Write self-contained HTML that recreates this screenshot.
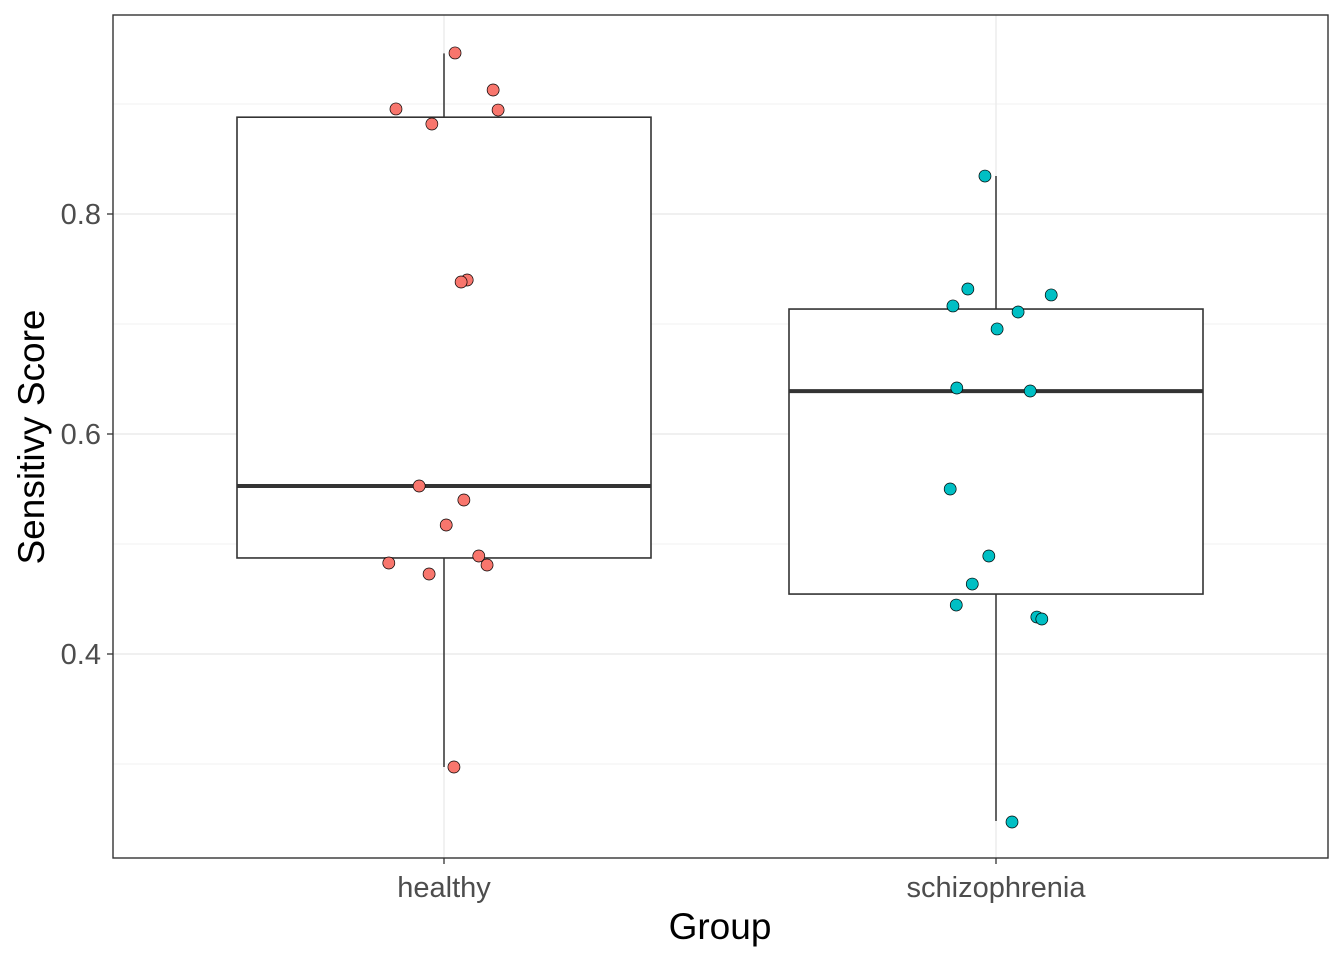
<!DOCTYPE html>
<html><head><meta charset="utf-8"><style>
html,body{margin:0;padding:0;background:#fff;}
svg{display:block;font-family:"Liberation Sans",Arial,sans-serif;}
</style></head><body>
<svg id="chart" width="1344" height="960" viewBox="0 0 1344 960">
<rect x="0" y="0" width="1344" height="960" fill="#fff"/>
<g id="grid"></g>
<g id="boxes"></g>
<g id="points"></g>
<rect x="113" y="15" width="1215" height="843" fill="none" stroke="#333" stroke-width="1.4"/>
<g id="axes"></g>
<text x="720" y="939" font-size="37" text-anchor="middle" fill="#000">Group</text>
<text transform="translate(44,437) rotate(-90)" font-size="37" text-anchor="middle" fill="#000">Sensitivy Score</text>
</svg>
<script>
const categories = ["healthy","schizophrenia"];
const colors = ["#F8766D","#00BFC4"];
const yTicks = [0.4,0.6,0.8];
const yTickLabels = ["0.4","0.6","0.8"];
const yMinor = [0.3,0.5,0.7,0.9];
const boxLower = [0.4873,0.4545];
const boxMedian = [0.5527,0.639];
const boxUpper = [0.888,0.7136];
const whiskerLow = [0.2973,0.2482];
const whiskerHigh = [0.946,0.8345];
const healthyValues = [0.9464,0.9127,0.8955,0.8945,0.8818,0.74,0.7382,0.5527,0.54,0.5173,0.4891,0.4827,0.4809,0.4727,0.2973];
const healthyJitter = [0.02,0.089,-0.087,0.098,-0.022,0.042,0.031,-0.045,0.036,0.004,0.063,-0.1,0.078,-0.027,0.018];
const schizoValues = [0.8345,0.7318,0.7264,0.7164,0.7109,0.6955,0.6418,0.6391,0.55,0.4891,0.4636,0.4445,0.4336,0.4318,0.2473];
const schizoJitter = [-0.02,-0.051,0.1,-0.078,0.04,0.002,-0.071,0.062,-0.083,-0.013,-0.043,-0.072,0.074,0.083,0.029];

const NS="http://www.w3.org/2000/svg";
function y(v){return 214+(0.8-v)*1100;}
function x(i){return 444+i*552;}
function mk(tag,attrs,parent){const e=document.createElementNS(NS,tag);for(const k in attrs)e.setAttribute(k,attrs[k]);parent.appendChild(e);return e;}
const grid=document.getElementById('grid'),boxes=document.getElementById('boxes'),pts=document.getElementById('points'),axes=document.getElementById('axes');
yMinor.forEach(v=>{const l=mk('line',{x1:113,x2:1328,y1:y(v),y2:y(v),stroke:'#ebebeb','stroke-width':0.8},grid);

});
yTicks.forEach((v,i)=>{const l=mk('line',{x1:113,x2:1328,y1:y(v),y2:y(v),stroke:'#ebebeb','stroke-width':1.4},grid);


const t=mk('line',{x1:107,x2:113,y1:y(v),y2:y(v),stroke:'#333','stroke-width':1.3},axes);


const tx=mk('text',{x:101,y:y(v)+10,'font-size':29,'text-anchor':'end',fill:'#4d4d4d'},axes);tx.textContent=yTickLabels[i];

});
categories.forEach((c,i)=>{const cx=x(i);
const l=mk('line',{x1:cx,x2:cx,y1:15,y2:858,stroke:'#ebebeb','stroke-width':1.4},grid);


const t=mk('line',{x1:cx,x2:cx,y1:858,y2:864,stroke:'#333','stroke-width':1.3},axes);


const tx=mk('text',{x:cx,y:897,'font-size':29,'text-anchor':'middle',fill:'#4d4d4d'},axes);tx.textContent=c;


const hw=0.375*552;
const w1=mk('line',{x1:cx,x2:cx,y1:y(whiskerHigh[i]),y2:y(boxUpper[i]),stroke:'#333','stroke-width':1.5},boxes);


const w2=mk('line',{x1:cx,x2:cx,y1:y(boxLower[i]),y2:y(whiskerLow[i]),stroke:'#333','stroke-width':1.5},boxes);


const b=mk('rect',{x:cx-hw,y:y(boxUpper[i]),width:2*hw,height:y(boxLower[i])-y(boxUpper[i]),fill:'#fff',stroke:'#333','stroke-width':1.6},boxes);


const m=mk('line',{x1:cx-hw,x2:cx+hw,y1:y(boxMedian[i]),y2:y(boxMedian[i]),stroke:'#333','stroke-width':4},boxes);

});
[[healthyValues,healthyJitter],[schizoValues,schizoJitter]].forEach(([vals,jit],i)=>{vals.forEach((v,k)=>{
const p=mk('circle',{cx:x(i+jit[k]),cy:y(v),r:6,fill:colors[i],stroke:'#000','stroke-width':0.7},pts);

});});
</script>
</body></html>
